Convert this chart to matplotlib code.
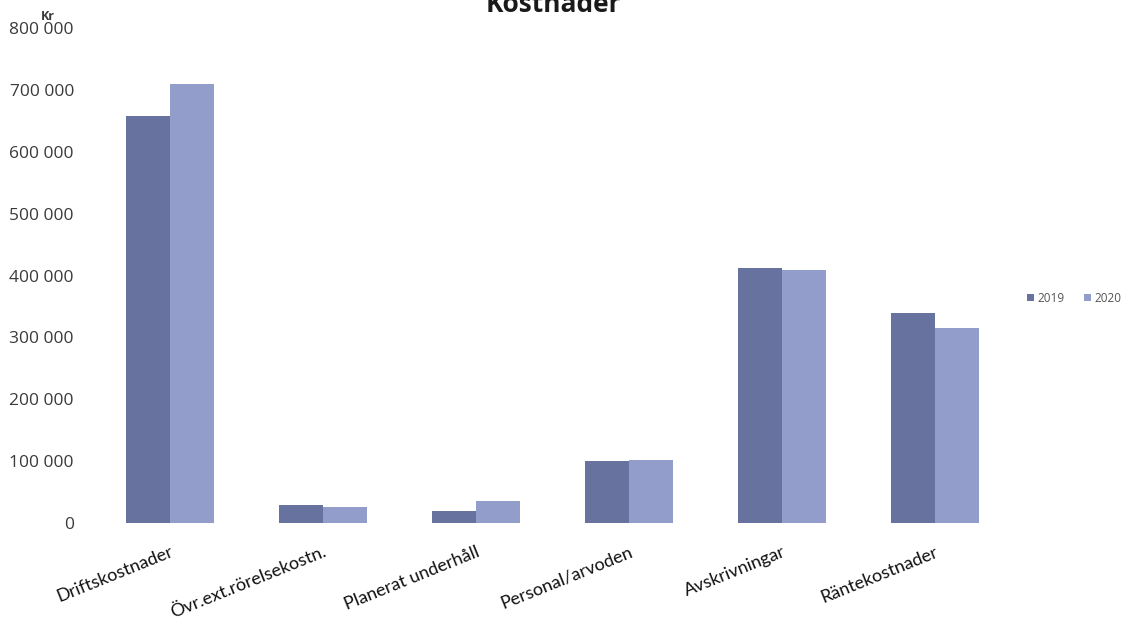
import numpy as np
import matplotlib
matplotlib.use("Agg")
import matplotlib.pyplot as plt
from matplotlib.ticker import FuncFormatter

plt.rcParams['font.family'] = ['Open Sans', 'DejaVu Sans']

categories = ['Driftskostnader', 'Övr.ext.rörelsekostn.', 'Planerat underhåll',
              'Personal/arvoden', 'Avskrivningar', 'Räntekostnader']
values_2019 = [658000, 29000, 19000, 100000, 412000, 339000]
values_2020 = [710000, 26000, 35000, 102000, 409000, 315000]
series_names = ['2019', '2020']
y_ticks = [0, 100000, 200000, 300000, 400000, 500000, 600000, 700000, 800000]

W, H = 1129, 624
fig = plt.figure(figsize=(W / 100, H / 100), dpi=100)
# axes placed in pixel terms of the reference
left, right, bottom, top = 85, 1011, 624 - 523, 624 - 28
ax = fig.add_axes([left / W, bottom / H, (right - left) / W, (top - bottom) / H])

x = np.arange(len(categories))
bw = 0.288
dark = '#67729f'
light = '#929dcc'
ax.bar(x - bw / 2, values_2019, bw, color=dark, label=series_names[0])
ax.bar(x + bw / 2, values_2020, bw, color=light, label=series_names[1])

ax.set_xlim(-0.556, len(categories) - 0.5)
ax.set_ylim(0, 800000)
ax.set_yticks(y_ticks)
ax.yaxis.set_major_formatter(FuncFormatter(lambda v, p: f'{int(v):,}'.replace(',', ' ')))
ax.tick_params(axis='y', length=0, pad=8, labelsize=12.5, labelcolor='#3a3a3a')

ax.set_xticks(x)
ax.set_xticklabels(categories, rotation=22, ha='right', va='top',
                   rotation_mode='anchor', fontsize=13, color='#111111',
                   family=['Lato', 'DejaVu Sans'])
ax.tick_params(axis='x', length=0, pad=15)

for s in ax.spines.values():
    s.set_visible(False)

fig.text(553 / W, 1 - 12 / H, 'Kostnader', ha='center', va='baseline',
         fontsize=19, fontweight='bold', color='#1a1a1a')
fig.text(48 / W, 1 - 20 / H, 'Kr', ha='center', va='baseline',
         fontsize=9, fontweight='bold', color='#3a3a3a')

fig.legend(loc='center', bbox_to_anchor=(1074 / W, 1 - 298 / H), ncol=2,
           frameon=False, fontsize=8.5, handlelength=0.6, handleheight=0.6,
           handletextpad=0.3, columnspacing=1.6, labelcolor='#555555')

fig.savefig('out.png', dpi=100)
